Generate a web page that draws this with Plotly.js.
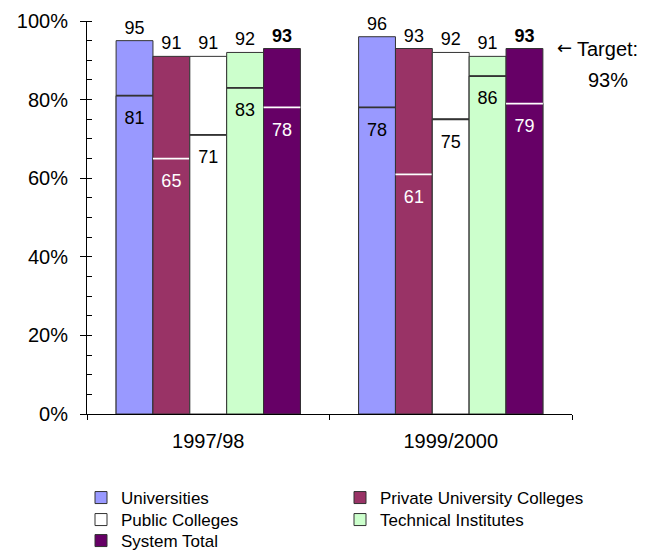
<!DOCTYPE html>
<html>
<head>
<meta charset="utf-8">
<script src="https://cdn.plot.ly/plotly-3.0.1.min.js"></script>
<style>html,body{margin:0;padding:0;background:#fff;}#chart{width:648px;height:550px;}</style>
</head>
<body>
<div id="chart"></div>
<script>
// ---- data ----
const categories = ['1997/98', '1999/2000'];
const seriesNames = ['Universities', 'Private University Colleges', 'Public Colleges', 'Technical Institutes', 'System Total'];
const highUniversities = [95, 96];
const highPrivate = [91, 93];
const highPublic = [91, 92];
const highTechnical = [92, 91];
const highTotal = [93, 93];
const lowUniversities = [81, 78];
const lowPrivate = [65, 61];
const lowPublic = [71, 75];
const lowTechnical = [83, 86];
const lowTotal = [78, 79];
const yTickVals = [0, 20, 40, 60, 80, 100];
const yTickText = ['0%', '20%', '40%', '60%', '80%', '100%'];

// ---- styles ----
const FONT = 'Liberation Sans, Arial, sans-serif';
const fills = ['#9999FF', '#993366', '#FFFFFF', '#CCFFCC', '#660066'];
const sepColors = ['#333333', '#FFFFFF', '#333333', '#333333', '#FFFFFF'];
const lowTextColors = ['#000000', '#FFFFFF', '#000000', '#000000', '#FFFFFF'];
const edge = '#333333';
const sepThick = 0.45;
// legend slots: [legend id, x (container), y (container, top)]
const legendSlots = [
  ['legend',  81 / 648, 1 - 480 / 550],
  ['legend2', 340 / 648, 1 - 480 / 550],
  ['legend3', 81 / 648, 1 - 502 / 550],
  ['legend4', 340 / 648, 1 - 502 / 550],
  ['legend5', 81 / 648, 1 - 523 / 550]
];
const spacer = '<span style="font-size:2px">&nbsp;</span><br>';

const highs = [highUniversities, highPrivate, highPublic, highTechnical, highTotal];
const lows = [lowUniversities, lowPrivate, lowPublic, lowTechnical, lowTotal];

const traces = [];
seriesNames.forEach((name, i) => {
  const og = 'g' + i;
  traces.push({
    type: 'bar', x: categories, y: highs[i], name: name, offsetgroup: og,
    legend: legendSlots[i][0],
    marker: {color: fills[i], line: {color: edge, width: 1}},
    text: highs[i].map(v => i === 4 ? '<b>' + v + '</b>' : String(v)),
    textposition: 'outside', cliponaxis: false, constraintext: 'none',
    textfont: {family: FONT, size: 18, color: '#000'},
    hoverinfo: 'skip', showlegend: true
  });
  traces.push({
    type: 'bar', x: categories, y: lows[i], name: name + ' low', offsetgroup: og,
    marker: {color: fills[i], line: {color: edge, width: 1}},
    text: lows[i].map(v => spacer + v),
    textposition: 'inside', insidetextanchor: 'end', constraintext: 'none',
    textangle: 0,
    insidetextfont: {family: FONT, size: 18, color: lowTextColors[i]},
    hoverinfo: 'skip', showlegend: false
  });
  traces.push({
    type: 'bar', x: categories, y: lows[i].map(() => sepThick),
    base: lows[i].map(v => v - sepThick / 2), offsetgroup: og,
    marker: {color: sepColors[i], line: {width: 0}},
    hoverinfo: 'skip', showlegend: false
  });
});

const layout = {
  width: 648, height: 550,
  margin: {l: 87, r: 76, t: 21, b: 136},
  paper_bgcolor: '#fff', plot_bgcolor: '#fff',
  font: {family: FONT, color: '#000'},
  barmode: 'group', bargap: 0.24, bargroupgap: 0,
  showlegend: true,
  xaxis: {
    type: 'category', showline: true, linecolor: '#000', linewidth: 1,
    ticks: 'outside', tickson: 'boundaries', ticklen: 5, tickcolor: '#000',
    ticklabelstandoff: 9,
    tickfont: {family: FONT, size: 20, color: '#000'},
    showgrid: false, zeroline: false, fixedrange: true
  },
  yaxis: {
    range: [0, 100], tickvals: yTickVals, ticktext: yTickText,
    showline: true, linecolor: '#000', linewidth: 1,
    ticks: 'outside', ticklen: 6, tickcolor: '#000',
    ticklabelstandoff: 8,
    minor: {dtick: 5, ticks: 'inside', ticklen: 5, tickcolor: '#000', showgrid: false},
    tickfont: {family: FONT, size: 20, color: '#000'},
    showgrid: false, zeroline: false, fixedrange: true
  },
  annotations: [
    {xref: 'paper', yref: 'paper', x: 0.984, y: 0.932, xanchor: 'center', yanchor: 'middle',
     text: '←', showarrow: false, font: {family: 'DejaVu Sans, sans-serif', size: 18, color: '#000'}},
    {xref: 'paper', yref: 'paper', x: 1.074, y: 0.929, xanchor: 'center', yanchor: 'middle',
     text: 'Target:', showarrow: false, font: {family: FONT, size: 20, color: '#000'}},
    {xref: 'paper', yref: 'paper', x: 1.074, y: 0.85, xanchor: 'center', yanchor: 'middle',
     text: '93%', showarrow: false, font: {family: FONT, size: 20, color: '#000'}}
  ]
};
legendSlots.forEach(([id, lx, ly]) => {
  layout[id] = {
    orientation: 'h', xref: 'container', yref: 'container',
    x: lx, xanchor: 'left', y: ly, yanchor: 'top',
    font: {family: FONT, size: 17, color: '#000'},
    bgcolor: 'rgba(0,0,0,0)', borderwidth: 0,
    itemclick: false, itemdoubleclick: false
  };
});

Plotly.newPlot('chart', traces, layout, {displayModeBar: false, staticPlot: true});
</script>
</body>
</html>
